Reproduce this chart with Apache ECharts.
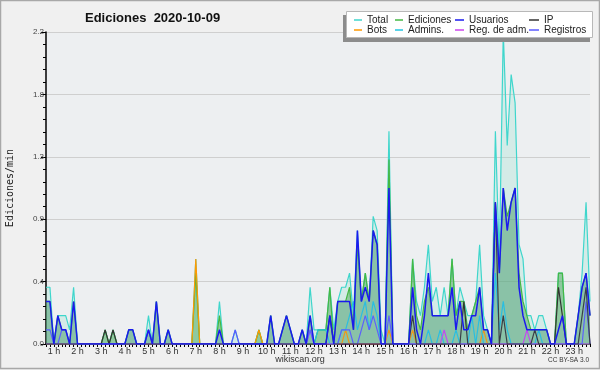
<!DOCTYPE html>
<html><head><meta charset="utf-8">
<script src="https://cdn.jsdelivr.net/npm/echarts@6/dist/echarts.min.js"></script>
<style>html,body{margin:0;padding:0;background:#f0f0f0}#c{width:600px;height:370px}</style>
</head><body><div id="c"></div>
<script>
// 10-minute bins, from 0:40 to 23:40 (values in edits/min); one row per hour
const startHour = 40 / 60;
const binHours = 10 / 60;
const hourLabels = [1,2,3,4,5,6,7,8,9,10,11,12,13,14,15,16,17,18,19,20,21,22,23];

const total = [
 .4,.4,
 0,.2,.2,.2,.1,.4,
 0,0,0,0,0,0,
 0,.1,0,.1,0,0,
 0,.1,.1,0,0,0,
 .2,0,.3,0,0,.1,
 0,0,0,0,0,0,
 .6,0,0,0,0,0,
 .3,0,0,0,.1,0,
 0,0,0,0,.1,0,
 0,.2,0,0,.1,.2,
 .1,0,0,.1,0,.4,
 .1,.1,.1,.1,.4,.1,
 .3,.4,.4,.5,.2,.8,
 .3,.5,.3,.9,.8,.1,
 0,1.5,0,0,0,0,
 0,.6,.3,.2,.4,.7,
 .3,.4,.2,.4,.2,.6,
 .2,.4,.3,.2,.2,.3,
 .7,.2,.1,0,1.5,.6,
 2.2,1.4,1.9,1.7,.7,.6,
 .2,.2,.1,.2,.2,.1,
 0,0,.5,.5,0,0,
 0,.2,.5,1.0,.3];
const ediciones = [
 .3,.3,
 0,.2,.1,.1,0,.3,
 0,0,0,0,0,0,
 0,.1,0,.1,0,0,
 0,.1,.1,0,0,0,
 .1,0,.3,0,0,.1,
 0,0,0,0,0,0,
 .5,0,0,0,0,0,
 .2,0,0,0,0,0,
 0,0,0,0,.1,0,
 0,.2,0,0,.1,.2,
 .1,0,0,.1,0,.2,
 0,.1,.1,.1,.4,0,
 .3,.3,.3,.4,.1,.7,
 .3,.5,.3,.8,.7,0,
 0,1.3,0,0,0,0,
 0,.6,.2,.1,.3,.4,
 .2,.2,.2,.2,.2,.6,
 .2,.3,.3,.1,.2,.3,
 .4,.1,.1,0,1.0,.5,
 1.1,.9,1.0,1.1,.5,.3,
 .2,.1,.1,.1,.1,.1,
 0,0,.5,.5,0,0,
 0,.2,.4,.5,.2];
const usuarios = [
 .3,.3,
 0,.2,.1,.1,0,.3,
 0,0,0,0,0,0,
 0,0,0,0,0,0,
 0,.1,.1,0,0,0,
 .1,0,.3,0,0,.1,
 0,0,0,0,0,0,
 0,0,0,0,0,0,
 .1,0,0,0,0,0,
 0,0,0,0,0,0,
 0,.2,0,0,.1,.2,
 .1,0,0,.1,0,.2,
 0,0,0,0,.2,0,
 .3,.3,.3,.3,.1,.8,
 .3,.4,.3,.8,.7,0,
 0,1.1,0,0,0,0,
 0,.4,.1,0,.2,.5,
 .2,.2,.2,.2,.2,.4,
 .1,.3,.1,.1,.2,.2,
 .4,.1,.1,0,1.0,.5,
 1.1,.8,1.0,1.1,.4,.2,
 .1,.1,.1,.1,.1,.1,
 0,0,.1,.2,0,0,
 0,.2,.4,.5,.2];
const ip = [
 0,0,
 0,0,0,0,0,0,
 0,0,0,0,0,0,
 0,.1,0,.1,0,0,
 0,0,0,0,0,0,
 0,0,0,0,0,0,
 0,0,0,0,0,0,
 0,0,0,0,0,0,
 0,0,0,0,0,0,
 0,0,0,0,0,0,
 0,0,0,0,0,0,
 0,0,0,0,0,0,
 0,0,0,0,.2,0,
 0,0,0,0,0,0,
 0,0,0,0,0,0,
 0,0,0,0,0,0,
 0,.2,0,0,0,0,
 0,0,0,0,0,0,
 0,0,.3,0,0,0,
 0,0,0,0,1.0,0,
 .2,0,0,0,0,0,
 0,0,.1,0,0,0,
 0,0,.4,.2,0,0,
 0,0,.2,.4,0];
const bots = [
 0,0,
 0,0,0,0,0,0,
 0,0,0,0,0,0,
 0,0,0,0,0,0,
 0,0,0,0,0,0,
 0,0,0,0,0,0,
 0,0,0,0,0,0,
 .6,0,0,0,0,0,
 0,0,0,0,0,0,
 0,0,0,0,.1,0,
 0,0,0,0,0,0,
 0,0,0,0,0,0,
 0,0,0,0,0,0,
 0,0,.1,0,0,0,
 0,0,0,0,0,0,
 0,.1,0,0,0,0,
 0,.1,0,0,0,0,
 0,0,0,0,0,0,
 0,0,0,0,0,0,
 0,.1,0,0,0,0,
 0,0,0,0,0,0,
 0,0,0,0,0,0,
 0,0,0,0,0,0,
 0,0,0,0,0];
const admins = [
 0,0,
 0,0,0,0,0,0,
 0,0,0,0,0,0,
 0,0,0,0,0,0,
 0,0,0,0,0,0,
 0,0,0,0,0,0,
 0,0,0,0,0,0,
 0,0,0,0,0,0,
 0,0,0,0,0,0,
 0,0,0,0,0,0,
 0,0,0,0,0,0,
 0,0,0,0,0,0,
 0,.1,.1,.1,0,0,
 0,.1,.1,.2,.3,.1,
 .2,.3,.1,.3,.2,0,
 0,0,0,0,0,0,
 0,0,0,0,0,.1,
 0,0,.1,0,0,0,
 .1,0,0,0,.2,0,
 .2,0,0,0,.5,.1,
 .3,.1,0,0,0,0,
 0,0,0,.1,0,0,
 0,0,0,0,0,0,
 0,0,0,0,0];
const regAdm = [
 0,0,
 0,0,0,0,0,0,
 0,0,0,0,0,0,
 0,0,0,0,0,0,
 0,0,0,0,0,0,
 0,0,0,0,0,0,
 0,0,0,0,0,0,
 0,0,0,0,0,0,
 0,0,0,0,0,0,
 0,0,0,0,0,0,
 0,0,0,0,0,0,
 0,0,0,0,0,.1,
 0,0,0,0,0,0,
 0,0,0,0,0,0,
 0,0,0,0,0,0,
 0,0,0,0,0,0,
 0,0,0,0,0,0,
 0,0,0,.1,0,0,
 0,0,0,0,0,0,
 0,0,0,0,0,0,
 0,0,0,0,0,0,
 .1,0,0,0,0,0,
 0,0,0,0,0,0,
 0,0,0,0,0];
const registros = [
 .1,.1,
 0,0,.1,.1,0,0,
 0,0,0,0,0,0,
 0,0,0,0,0,0,
 0,0,0,0,0,0,
 .1,0,0,0,0,0,
 0,0,0,0,0,0,
 0,0,0,0,0,0,
 0,0,0,0,.1,0,
 0,0,0,0,0,0,
 0,0,0,0,0,0,
 0,0,0,0,0,.1,
 0,0,0,0,0,0,
 0,.1,.1,.1,0,0,
 .1,.2,.1,.2,.1,0,
 0,.2,0,0,0,0,
 0,0,0,0,0,0,
 0,0,0,0,0,0,
 0,0,0,0,0,0,
 0,0,0,0,0,0,
 0,0,0,0,0,0,
 0,0,0,0,0,0,
 0,0,0,0,0,0,
 0,0,0,.3,0];

const toPairs = arr => arr.map((v, i) => [startHour + i * binHours, v]);
const tickValues = total.map((v, i) => startHour + i * binHours);
const endHour = startHour + (total.length - 1) * binHours;

const chart = echarts.init(document.getElementById('c'), null, {renderer: 'canvas'});
const F = 'Liberation Sans, Arial, sans-serif';

function line(name, data, color, width, fill, z) {
  const s = {
    name, type: 'line', data: toPairs(data), symbol: 'none', color,
    lineStyle: {color, width}, z, animation: false
  };
  if (fill) s.areaStyle = {color: fill, opacity: 1};
  return s;
}

const legendBase = {orient: 'vertical', itemHeight: 1.5, icon: 'rect', itemGap: 0, z: 20, padding: 0,
  textStyle: {fontFamily: F, fontSize: 10, color: '#222', lineHeight: 10},
  top: 15, selectedMode: false};

chart.setOption({
  backgroundColor: '#f0f0f0',
  animation: false,
  title: {text: 'Ediciones  2020-10-09', left: 80, top: 7,
    textStyle: {fontFamily: F, fontSize: 13, fontWeight: 'bold', color: '#111'}},
  graphic: [
    {type: 'rect', shape: {x: 0.5, y: 0.5, width: 599, height: 368}, style: {fill: 'none', stroke: '#a8a8a8', lineWidth: 1.5}, z: 100},
    {type: 'rect', shape: {x: 343, y: 15, width: 247, height: 27}, style: {fill: '#8c8c8c'}, z: 10},
    {type: 'rect', shape: {x: 346.5, y: 11.5, width: 246, height: 26}, style: {fill: '#ffffff', stroke: '#b8b8b8', lineWidth: 1}, z: 11},
    {type: 'text', left: 'center', top: 355, style: {text: 'wikiscan.org', font: '9px ' + F, fill: '#333'}},
    {type: 'text', right: 11, top: 357, style: {text: 'CC BY-SA 3.0', font: '6.5px ' + F, fill: '#333'}}
  ],
  legend: [
    Object.assign({}, legendBase, {left: 354, itemWidth: 8, data: ['Total', 'Bots']}),
    Object.assign({}, legendBase, {left: 395, itemWidth: 8, data: ['Ediciones', 'Admins.']}),
    Object.assign({}, legendBase, {left: 455, itemWidth: 9, data: ['Usuarios', 'Reg. de adm.']}),
    Object.assign({}, legendBase, {left: 529, itemWidth: 10, data: ['IP', 'Registros']})
  ],
  grid: {left: 46, right: 10, top: 32, bottom: 26, show: true, backgroundColor: '#edeff1', borderWidth: 0, outerBoundsMode: 'none', containLabel: false},
  xAxis: {
    type: 'value', min: startHour, max: endHour,
    axisLine: {lineStyle: {color: '#000', width: 1.5}},
    axisTick: {show: true, customValues: tickValues, length: 3, lineStyle: {color: '#000', width: 1}},
    axisLabel: {customValues: hourLabels, formatter: v => Math.round(v) + ' h', fontFamily: F, fontSize: 9, color: '#333', margin: 3},
    splitLine: {show: false}
  },
  yAxis: {
    type: 'value', min: 0, max: 2.2, interval: 0.44,
    name: 'Ediciones/min', nameLocation: 'middle', nameGap: 31,
    nameTextStyle: {fontFamily: 'DejaVu Sans Mono', fontSize: 10, color: '#222'},
    axisLine: {show: true, lineStyle: {color: '#000', width: 1.5}},
    axisTick: {show: true, length: 5, lineStyle: {color: '#000'}},
    minorTick: {show: true, splitNumber: 5, length: 3, lineStyle: {color: '#000'}},
    axisLabel: {formatter: v => v.toFixed(1), fontFamily: F, fontSize: 8, color: '#444', margin: 2},
    splitLine: {show: true, lineStyle: {color: '#cfcfcf', width: 1}}
  },
  series: [
    line('Total', total, '#3fd6cc', 1.2, 'rgba(140,225,205,0.25)', 2),
    line('Ediciones', ediciones, '#44b844', 1.2, 'rgba(60,160,70,0.45)', 3),
    line('Usuarios', usuarios, '#1a1aee', 1.5, 'rgba(110,150,230,0.12)', 6),
    line('IP', ip, '#333333', 1.2, null, 5),
    line('Bots', bots, '#ff9900', 1.2, null, 4),
    line('Admins.', admins, '#22c4e0', 1.2, null, 4),
    line('Reg. de adm.', regAdm, '#cc44ee', 1.2, null, 4),
    line('Registros', registros, '#5a5aff', 1.2, null, 4)
  ]
});
</script></body></html>
